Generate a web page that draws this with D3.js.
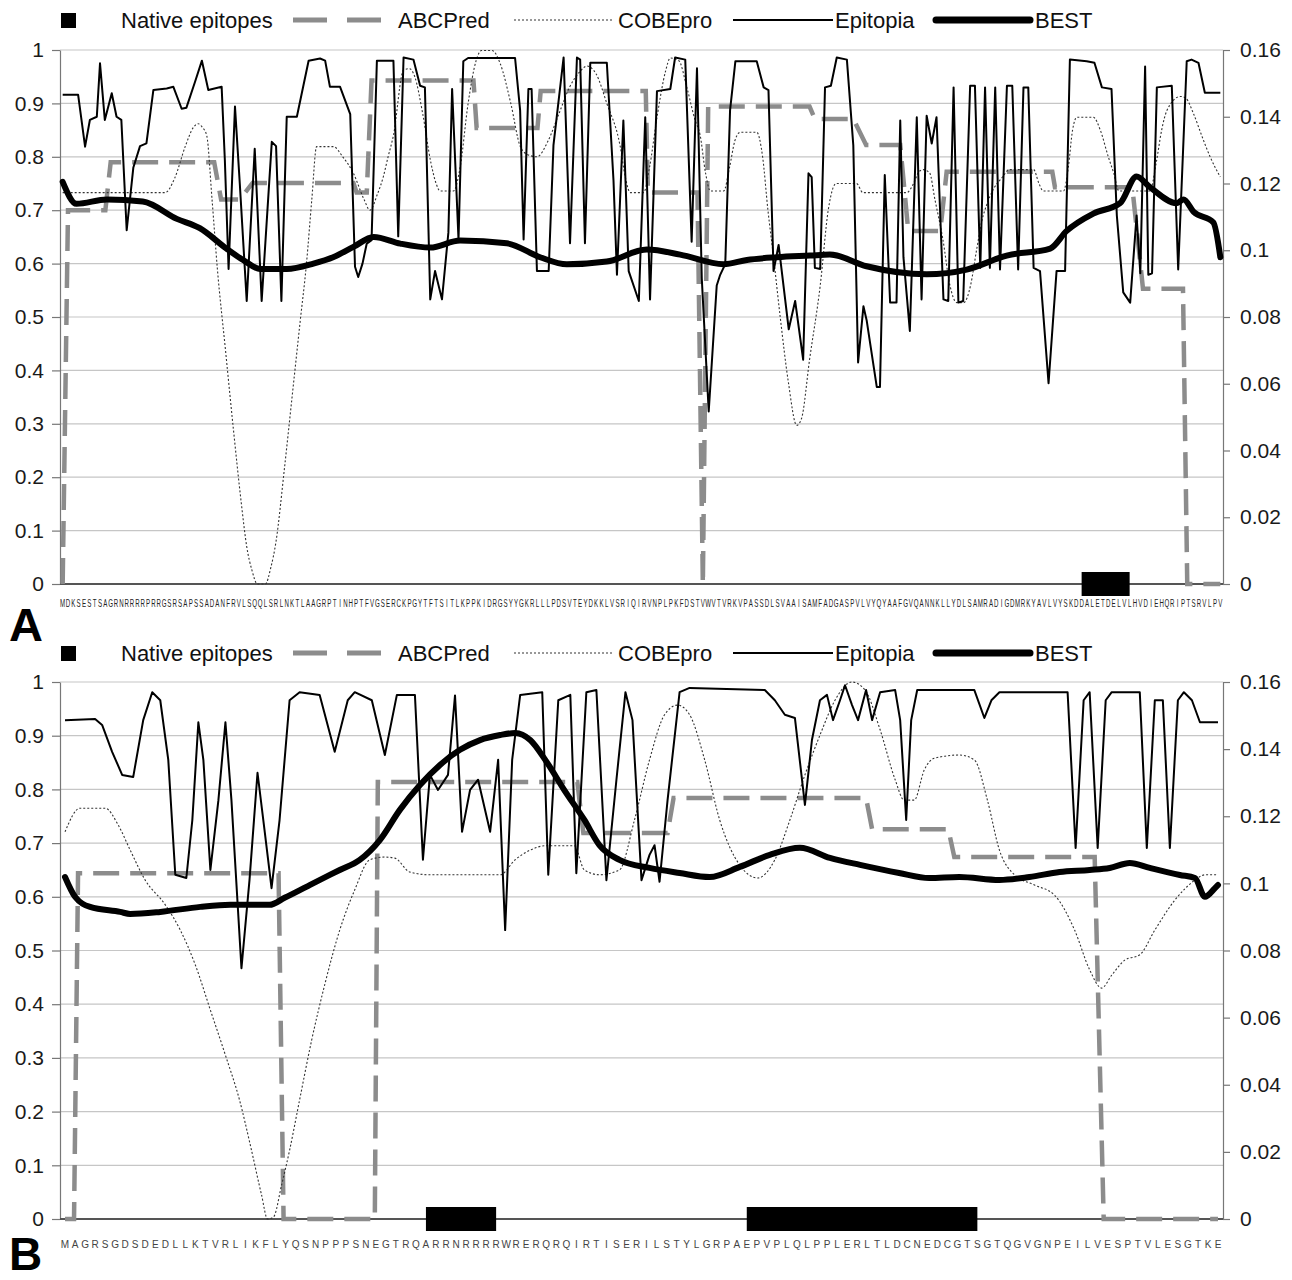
<!DOCTYPE html>
<html><head><meta charset="utf-8">
<script src="https://cdn.jsdelivr.net/npm/d3@7"></script>
<style>
body{margin:0;background:#fff}
text{font-family:Arial,"Liberation Sans",sans-serif}
</style>
</head><body>
<svg id="chart" width="1292" height="1280"></svg>
<script>
// ---------------- DATA ----------------
const seqA = "MDKSESTSAGRNRRRRPRRGSRSAPSSADANFRVLSQQLSRLNKTLAAGRPTINHPTFVGSERCKPGYTFTSITLKPPKIDRGSYYGKRLLLPDSVTEYDKKLVSRIQIRVNPLPKFDSTVWVTVRKVPASSDLSVAAISAMFADGASPVLVYQYAAFGVQANNKLLYDLSAMRADIGDMRKYAVLVYSKDDALETDELVLHVDIEHQRIPTSRVLPV";
const seqB = "MAGRSGDSDEDLLKTVRLIKFLYQSNPPPSNEGTRQARRNRRRRWRERQRQIRTISERILSTYLGRPAEPVPLQLPPLERLTLDCNEDCGTSGTQGVGNPEILVESPTVLESGTKE";

const legendLabels = ["Native epitopes", "ABCPred", "COBEpro", "Epitopia", "BEST"];
const leftTicks = [0,0.1,0.2,0.3,0.4,0.5,0.6,0.7,0.8,0.9,1];
const rightTicks = [0,0.02,0.04,0.06,0.08,0.1,0.12,0.14,0.16];

// native epitope residue ranges
const nativeA = [[192,201]];
const nativeB = [[37,44],[69,92]];

// [residue, score]
const abcpredA = [[1,0],[2,0.70],[9,0.70],[10,0.79],[29.4,0.79],[30.7,0.72],[34.2,0.72],[36.6,0.751],[55.5,0.751],[56.1,0.733],[58,0.733],[58.9,0.943],[78,0.943],[78.6,0.854],[90,0.854],[90.6,0.923],[110.3,0.923],[110.7,0.733],[120,0.733],[121,0],[122,0.894],[141,0.894],[142,0.871],[149.2,0.871],[151.6,0.822],[158,0.822],[159.5,0.661],[165.5,0.661],[166.7,0.772],[186.5,0.772],[187,0.743],[201.5,0.743],[203.5,0.553],[211,0.553],[211.8,0],[218,0]];

const cobeproA = [[1,0.733],[20.2,0.733],[22,0.76],[24,0.82],[25.5,0.855],[26.4,0.862],[27.2,0.855],[28,0.84],[29,0.72],[30,0.59],[31.5,0.44],[33,0.29],[34.5,0.15],[35.5,0.07],[36.5,0.025],[37.5,0.0],[39,0.0],[40,0.03],[41,0.08],[42.5,0.21],[44,0.35],[45.5,0.49],[46.7,0.6],[47.7,0.72],[48.6,0.819],[51.75,0.819],[53.5,0.8],[55.5,0.769],[57.5,0.72],[58.6,0.7],[60,0.73],[61.1,0.7625],[62,0.8],[63,0.84],[64.9,0.9625],[66,0.965],[67,0.95],[68.5,0.88],[70,0.79],[71,0.75],[71.75,0.736],[74.25,0.736],[75.5,0.78],[77,0.9],[78.5,0.98],[79.5,0.999],[81.5,0.999],[83,0.975],[85,0.9],[86.75,0.82],[88,0.805],[89.9,0.80],[92,0.83],[94,0.88],[96,0.93],[98,0.96],[99.25,0.97],[101,0.955],[103,0.9],[105.5,0.82],[106.5,0.76],[107.4,0.733],[109.9,0.733],[111,0.78],[112.5,0.88],[114,0.96],[114.9,0.985],[116.5,0.98],[118,0.93],[119.5,0.87],[120.5,0.84],[121.5,0.77],[122.4,0.736],[124.9,0.736],[126,0.78],[127,0.83],[128,0.846],[131.1,0.846],[132.2,0.8],[133.2,0.7],[134.25,0.612],[135.5,0.5],[137,0.38],[138.6,0.297],[139.5,0.31],[141,0.42],[143,0.559],[144.5,0.7],[145.45,0.743],[146,0.75],[149.8,0.75],[151,0.733],[159.2,0.733],[160.5,0.75],[161.5,0.772],[162.3,0.776],[163.5,0.77],[164.5,0.72],[166,0.645],[167.3,0.56],[168.6,0.527],[169.9,0.527],[171.2,0.56],[172.3,0.625],[173.3,0.68],[174.2,0.71],[175.5,0.74],[177,0.76],[178.5,0.776],[183,0.776],[184,0.75],[184.8,0.736],[188.6,0.736],[189.5,0.78],[190.3,0.85],[191.1,0.874],[194.2,0.874],[195.5,0.85],[197,0.8],[198,0.77],[199,0.736],[204.8,0.736],[206,0.79],[207,0.85],[208,0.887],[210.5,0.913],[211.5,0.91],[213,0.88],[214.5,0.84],[216,0.802],[218,0.762]];

const epitopiaA = [[1,0.916],[3.9,0.916],[5.2,0.819],[6.1,0.869],[7.4,0.875],[8,0.975],[8.9,0.869],[10.2,0.919],[11.1,0.875],[12,0.869],[13,0.6625],[14.25,0.78],[15.5,0.82],[16.7,0.825],[18,0.925],[20.5,0.928],[21.75,0.931],[23.3,0.89],[24.2,0.892],[25.8,0.94],[27.1,0.98],[28.3,0.925],[30.8,0.931],[31.4,0.794],[32.1,0.59],[33.3,0.894],[34.2,0.75],[35.5,0.53],[37,0.815],[38.3,0.53],[40.2,0.828],[41,0.82],[42,0.53],[43,0.875],[44.9,0.875],[47.1,0.98],[49.25,0.984],[50.2,0.98],[51.1,0.931],[53,0.931],[54.9,0.88],[55.8,0.594],[56.4,0.575],[57.2,0.6],[58,0.6375],[58.9,0.644],[59.9,0.98],[63,0.98],[63.9,0.651],[64.9,0.986],[66.75,0.982],[68,0.933],[68.9,0.93],[69.9,0.533],[70.8,0.586],[72.1,0.533],[73.3,0.658],[74,0.927],[75.2,0.645],[76.1,0.979],[77,0.985],[85.8,0.985],[86.75,0.887],[87.4,0.645],[88.3,0.927],[88.9,0.927],[89.9,0.586],[92.1,0.586],[93,0.822],[94.9,0.986],[96.1,0.638],[97.4,0.986],[98,0.982],[98.9,0.638],[99.9,0.976],[103,0.976],[104.25,0.756],[104.9,0.579],[106.1,0.868],[107.1,0.586],[109,0.53],[110.2,0.874],[111.1,0.533],[112.4,0.923],[114.9,0.927],[115.8,0.986],[117.7,0.982],[118.9,0.641],[119.9,0.966],[120.8,0.572],[122.1,0.323],[123.6,0.559],[124.25,0.579],[125.2,0.599],[126.1,0.887],[127.1,0.979],[131.1,0.979],[132.4,0.93],[133.3,0.925],[134.25,0.586],[135.2,0.635],[137.1,0.477],[138.3,0.53],[139.8,0.42],[140.8,0.769],[141.4,0.762],[142,0.592],[143,0.59],[143.9,0.93],[145,0.933],[146.1,0.986],[148,0.982],[149.2,0.822],[150.1,0.415],[151.1,0.52],[151.7,0.494],[153.6,0.369],[154.2,0.369],[155.1,0.766],[156.1,0.527],[157.3,0.527],[158,0.868],[158.6,0.612],[159.8,0.474],[161.1,0.874],[162,0.533],[162.95,0.877],[163.9,0.825],[164.8,0.874],[166.1,0.533],[167,0.530],[168,0.93],[168.9,0.527],[169.8,0.530],[171.1,0.933],[172,0.933],[173,0.592],[173.9,0.93],[174.8,0.592],[175.8,0.93],[176.7,0.589],[178,0.933],[179,0.933],[180.1,0.589],[181.1,0.93],[182,0.93],[183,0.592],[184.2,0.586],[185.8,0.376],[187.3,0.586],[188.9,0.586],[189.8,0.982],[192.95,0.979],[194.4,0.976],[195.8,0.93],[197.6,0.927],[198.6,0.69],[199.8,0.546],[201.1,0.527],[202.3,0.69],[203,0.582],[203.9,0.969],[204.5,0.579],[205.2,0.582],[206.1,0.93],[208.9,0.933],[210.1,0.589],[211.7,0.979],[212.6,0.982],[213.9,0.976],[215.1,0.92],[218,0.92]];

const bestA = [[1,0.1205],[3.6,0.1139],[9.3,0.1152],[16,0.1146],[22.4,0.1094],[26.7,0.1066],[31.7,0.1005],[34.9,0.0970],[38,0.0944],[43,0.0944],[48,0.0960],[51.8,0.0980],[55.5,0.1010],[59.3,0.1040],[64.3,0.1020],[69.9,0.1008],[75.5,0.1029],[84.25,0.1021],[90.5,0.0979],[95.5,0.0958],[103,0.0966],[110.5,0.1002],[116.75,0.0987],[124.9,0.0958],[129.25,0.0971],[134.9,0.0979],[141.1,0.0984],[144.8,0.0987],[151.7,0.0952],[162.95,0.0928],[170.45,0.0942],[177.95,0.0984],[186.1,0.1005],[189.2,0.1058],[194.2,0.1110],[199.2,0.1141],[202.3,0.1221],[204.8,0.1189],[209.8,0.1141],[211.1,0.1152],[213,0.1115],[216.7,0.1083],[218,0.0979]];

const abcpredB = [[1,0],[1.9,0],[2.3,0.644],[22.3,0.644],[22.8,0],[31.9,0],[32.2,0.814],[52.1,0.814],[52.7,0.719],[61.1,0.719],[61.7,0.784],[80.9,0.784],[81.5,0.726],[89.1,0.726],[89.7,0.674],[103.7,0.674],[104.6,0],[116,0]];

const cobeproB = [[1,0.721],[2.5,0.765],[5.0,0.765],[6.3,0.734],[7.5,0.687],[9.0,0.631],[11.0,0.585],[12.5,0.538],[14.0,0.473],[15.5,0.389],[17.0,0.305],[18.4,0.222],[19.6,0.128],[20.6,0.045],[21.2,0.0],[21.8,0.004],[22.6,0.063],[23.4,0.128],[24.4,0.222],[25.6,0.333],[26.9,0.436],[28.4,0.538],[29.9,0.613],[31.4,0.669],[32.9,0.674],[33.9,0.672],[35.4,0.646],[37.4,0.641],[44.4,0.641],[45.9,0.669],[47.4,0.687],[48.9,0.695],[51.8,0.695],[52.8,0.650],[54.3,0.641],[56.3,0.650],[57.8,0.743],[59.3,0.855],[60.8,0.939],[62.1,0.957],[63.3,0.939],[64.8,0.855],[66.3,0.743],[68.3,0.659],[70.1,0.635],[71.8,0.669],[73.3,0.743],[74.8,0.827],[76.3,0.901],[77.8,0.966],[79.5,1.0],[80.8,0.985],[82.3,0.911],[83.8,0.818],[84.7,0.780],[85.7,0.780],[86.7,0.836],[87.7,0.858],[90.2,0.864],[91.7,0.855],[93.0,0.780],[94.2,0.687],[95.7,0.641],[97.7,0.622],[99.7,0.603],[101.7,0.538],[103.2,0.464],[104.4,0.430],[105.4,0.454],[106.7,0.482],[108.2,0.492],[109.7,0.538],[111.7,0.594],[113.7,0.631],[114.7,0.641],[116,0.641]];

const epitopiaB = [[1,0.929],[4.0,0.931],[4.7,0.920],[5.7,0.870],[6.7,0.827],[7.8,0.823],[8.8,0.929],[9.7,0.981],[10.5,0.966],[11.3,0.855],[12.0,0.641],[13.1,0.635],[13.7,0.743],[14.3,0.925],[14.8,0.855],[15.5,0.650],[16.3,0.780],[17.0,0.925],[17.6,0.780],[18.6,0.467],[19.4,0.631],[20.2,0.831],[20.9,0.724],[21.6,0.616],[22.4,0.743],[23.4,0.966],[24.4,0.981],[26.4,0.976],[27.9,0.870],[29.2,0.966],[29.9,0.981],[31.6,0.966],[32.9,0.864],[34.1,0.976],[35.9,0.976],[36.7,0.669],[37.4,0.827],[38.2,0.799],[39.2,0.827],[39.9,0.975],[40.6,0.721],[41.4,0.799],[42.2,0.818],[43.4,0.721],[44.2,0.855],[44.9,0.538],[45.6,0.855],[46.4,0.976],[48.6,0.981],[49.2,0.641],[50.2,0.966],[51.4,0.976],[52.0,0.644],[53.0,0.981],[54.0,0.985],[55.0,0.631],[56.0,0.818],[56.9,0.981],[57.6,0.929],[58.5,0.631],[59.3,0.678],[59.8,0.696],[60.3,0.628],[61.1,0.780],[62.3,0.981],[63.3,0.989],[70.8,0.985],[71.8,0.966],[72.8,0.939],[73.8,0.933],[74.8,0.771],[75.5,0.892],[76.3,0.966],[77.0,0.976],[77.6,0.929],[78.3,0.966],[78.8,0.994],[79.5,0.957],[80.1,0.929],[80.9,0.985],[81.5,0.929],[82.3,0.981],[83.8,0.985],[84.3,0.929],[84.9,0.743],[85.4,0.929],[86.0,0.985],[91.7,0.985],[92.7,0.933],[93.4,0.966],[94.2,0.981],[101.0,0.981],[101.8,0.691],[102.6,0.966],[103.2,0.981],[104.0,0.691],[104.8,0.966],[105.4,0.981],[108.2,0.981],[108.9,0.691],[109.7,0.966],[110.5,0.966],[111.2,0.691],[112.0,0.966],[112.6,0.981],[113.4,0.966],[114.2,0.925],[116,0.925]];

const bestB = [[1,0.1019],[2,0.0960],[3.5,0.0930],[6.5,0.0915],[7.5,0.0909],[10.5,0.0915],[14.5,0.0930],[17.5,0.0936],[21.4,0.0936],[22.9,0.0957],[25.4,0.0995],[28.4,0.1040],[30.4,0.1070],[32.4,0.1129],[34.4,0.1219],[36.4,0.1293],[38.4,0.1353],[40.4,0.1398],[42.4,0.1427],[44.4,0.1442],[45.9,0.1448],[47.4,0.1427],[48.9,0.1368],[50.8,0.1278],[52.8,0.1189],[54.3,0.1114],[56.3,0.1070],[59.3,0.1046],[62.3,0.1031],[65.3,0.1019],[68.3,0.1049],[71.3,0.1085],[74.3,0.1106],[77.3,0.1076],[80.3,0.1055],[84.2,0.1031],[87.2,0.1016],[90.2,0.1019],[94.2,0.1010],[97.2,0.1019],[100.2,0.1034],[103.2,0.1040],[105.2,0.1046],[107.2,0.1061],[109.2,0.1046],[112.2,0.1025],[113.7,0.1016],[114.7,0.0960],[115.7,0.0986],[116,0.0995]];

// ---------------- DRAW ----------------
const svg = d3.select("#chart");
const X0 = 60, X1 = 1223;
const GRAY = "#8c8c8c";

function drawPanel(p) {
  const n = p.seq.length;
  const g = svg.append("g");
  const x = d3.scaleLinear().domain([0.5, n + 0.5]).range([X0, X1]);
  const y = d3.scaleLinear().domain([0, 1]).range([p.bot, p.top]);
  const y2 = d3.scaleLinear().domain([0, 0.16]).range([p.bot, p.top]);

  // gridlines
  g.append("g").selectAll("line").data(leftTicks.filter(d => d > 0)).join("line")
    .attr("x1", X0).attr("x2", X1).attr("y1", d => y(d)).attr("y2", d => y(d))
    .attr("stroke", "#c6c6c6").attr("stroke-width", 1.2);

  // left axis
  const la = g.append("g").attr("transform", `translate(${X0},0)`)
    .call(d3.axisLeft(y).tickValues(leftTicks).tickFormat(d3.format(".1~f")).tickSize(8).tickSizeOuter(0).tickPadding(8));
  // right axis
  const ra = g.append("g").attr("transform", `translate(${X1},0)`)
    .call(d3.axisRight(y2).tickValues(rightTicks).tickFormat(d3.format(".2~f")).tickSize(7).tickSizeOuter(0).tickPadding(10));
  [la, ra].forEach(a => {
    a.select(".domain").attr("stroke", "#777").attr("stroke-width", 1.2);
    a.selectAll(".tick line").attr("stroke", "#777").attr("stroke-width", 1.2);
    a.selectAll(".tick text").attr("font-size", 21).attr("fill", "#1a1a1a")
      .attr("font-family", "Arial, 'Liberation Sans', sans-serif");
  });

  // zero baseline
  g.append("line").attr("x1", X0).attr("x2", X1).attr("y1", y(0)).attr("y2", y(0))
    .attr("stroke", "#555").attr("stroke-width", 2);

  const line1 = d3.line().x(d => x(d[0])).y(d => y(d[1]));
  const smooth1 = d3.line().x(d => x(d[0])).y(d => y(d[1])).curve(d3.curveMonotoneX);
  const smooth2 = d3.line().x(d => x(d[0])).y(d => y2(d[1])).curve(d3.curveMonotoneX);

  // ABCPred
  g.append("path").datum(p.abc).attr("d", line1).attr("fill", "none")
    .attr("stroke", GRAY).attr("stroke-width", 4.5).attr("stroke-dasharray", "26,11");
  // COBEpro
  g.append("path").datum(p.cobe).attr("d", smooth1).attr("fill", "none")
    .attr("stroke", "#333").attr("stroke-width", 1.1).attr("stroke-dasharray", "2,2");
  // Epitopia
  g.append("path").datum(p.epi).attr("d", line1).attr("fill", "none")
    .attr("stroke", "#000").attr("stroke-width", 2).attr("stroke-linejoin", "round");
  // BEST (secondary axis)
  g.append("path").datum(p.best).attr("d", smooth2).attr("fill", "none")
    .attr("stroke", "#000").attr("stroke-width", 6).attr("stroke-linejoin", "round").attr("stroke-linecap", "round");

  // native epitopes
  g.append("g").selectAll("line").data(p.native).join("line")
    .attr("x1", d => x(d[0])).attr("x2", d => x(d[1]))
    .attr("y1", y(0)).attr("y2", y(0))
    .attr("stroke", "#000").attr("stroke-width", 24);

  // sequence labels
  g.append("g").selectAll("text").data(p.seq.split("").map((c, i) => ({c, r: i + 1}))).join("text")
    .attr("transform", d => `translate(${x(d.r)},${p.seqY}) scale(${p.seqScale},1)`)
    .attr("text-anchor", "middle").attr("font-size", p.seqSize).attr("fill", p.seqFill)
    .text(d => d.c);

  // panel letter
  g.append("text").attr("x", 9).attr("y", p.letterY).attr("font-size", p.letterSize).attr("font-weight", "bold")
    .attr("fill", "#000").text(p.letter);

  // legend
  const ly = p.legendY;
  const lg = g.append("g");
  lg.append("rect").attr("x", 61).attr("y", ly - 7).attr("width", 15).attr("height", 15).attr("fill", "#000");
  lg.append("line").attr("x1", 293).attr("x2", 381).attr("y1", ly).attr("y2", ly)
    .attr("stroke", GRAY).attr("stroke-width", 5).attr("stroke-dasharray", "34,20");
  lg.append("line").attr("x1", 514).attr("x2", 614).attr("y1", ly).attr("y2", ly)
    .attr("stroke", "#333").attr("stroke-width", 1.1).attr("stroke-dasharray", "2,2");
  lg.append("line").attr("x1", 733).attr("x2", 833).attr("y1", ly).attr("y2", ly)
    .attr("stroke", "#000").attr("stroke-width", 2);
  lg.append("line").attr("x1", 936).attr("x2", 1030).attr("y1", ly).attr("y2", ly)
    .attr("stroke", "#000").attr("stroke-width", 7).attr("stroke-linecap", "round");
  const lx = [121, 398, 618, 835, 1035];
  lg.selectAll("text").data(legendLabels).join("text")
    .attr("x", (d, i) => lx[i]).attr("y", ly + 8).attr("font-size", 22).attr("fill", "#111")
    .text(d => d);
}

drawPanel({seq: seqA, top: 50, bot: 584, legendY: 20, seqY: 607, seqSize: 11, seqScale: 0.56, seqFill: "#222",
  letter: "A", letterY: 641, letterSize: 47, abc: abcpredA, cobe: cobeproA, epi: epitopiaA, best: bestA, native: nativeA});
drawPanel({seq: seqB, top: 682, bot: 1219, legendY: 653, seqY: 1248, seqSize: 10, seqScale: 1, seqFill: "#444",
  letter: "B", letterY: 1270, letterSize: 46, abc: abcpredB, cobe: cobeproB, epi: epitopiaB, best: bestB, native: nativeB});
</script>
</body></html>
